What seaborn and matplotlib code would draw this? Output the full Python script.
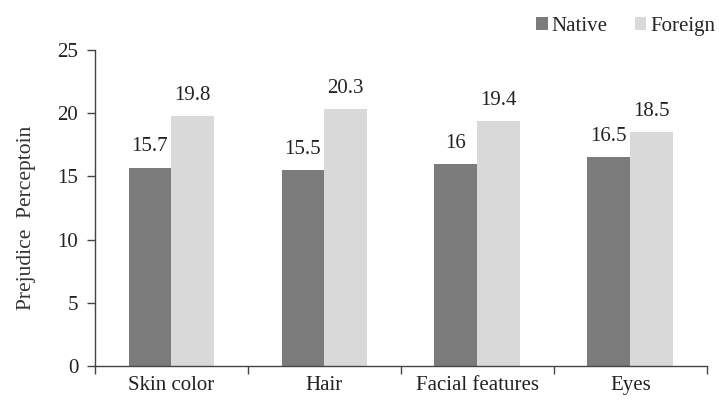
import numpy as np
import pandas as pd
import matplotlib
matplotlib.use('Agg')
import matplotlib.pyplot as plt
import seaborn as sns
from matplotlib.ticker import FixedLocator

# Data
categories = ['Skin color', 'Hair', 'Facial features', 'Eyes']
native = [15.7, 15.5, 16, 16.5]
foreign = [19.8, 20.3, 19.4, 18.5]
groups = ['Native', 'Foreign']

df = pd.DataFrame({
    'Feature': categories * 2,
    'Group': ['Native'] * len(categories) + ['Foreign'] * len(categories),
    'Value': native + foreign,
})

sns.set_style('white')
plt.rcParams['font.family'] = ['Liberation Serif', 'DejaVu Serif']

fig = plt.figure(figsize=(7.19, 4.0), dpi=100)
ax = fig.add_axes([0.132, 0.085, 0.851, 0.79])

palette = {'Native': '#7b7b7b', 'Foreign': '#d9d9d9'}
sns.barplot(data=df, x='Feature', y='Value', hue='Group', order=categories,
            hue_order=groups, palette=palette, width=0.56, saturation=1,
            ax=ax, linewidth=0)

for cont in ax.containers:
    labels = [f'{v:g}' for v in cont.datavalues]
    ax.bar_label(cont, labels=labels, padding=8, fontsize=15, color='#222222')

ax.set_ylim(0, 25)
ax.set_xlim(-0.5, len(categories) - 0.5)
ax.set_yticks([0, 5, 10, 15, 20, 25])
ax.tick_params(axis='y', which='major', left=True, length=6, width=1,
               color='#444444', labelsize=15, pad=6, labelcolor='#222222')
ax.tick_params(axis='x', which='major', bottom=False, length=0, labelsize=15,
               pad=7, labelcolor='#222222')
ax.xaxis.set_minor_locator(FixedLocator(np.arange(-0.5, len(categories), 1.0)))
ax.tick_params(axis='x', which='minor', bottom=True, length=6, width=1,
               color='#444444')

ax.set_xlabel('')
ax.set_ylabel('Prejudice  Perceptoin', fontsize=15.5, color='#333333')
ax.yaxis.set_label_coords(-0.097, 0.47)

for side in ['top', 'right']:
    ax.spines[side].set_visible(False)
for side in ['left', 'bottom']:
    ax.spines[side].set_color('#444444')
    ax.spines[side].set_linewidth(1)

ax.legend(title=None, frameon=False, ncol=2, loc='center right',
          bbox_to_anchor=(1.045, 1.075), handlelength=0.55, handleheight=0.55,
          handletextpad=0.2, columnspacing=1.3,
          prop={'family': 'Liberation Serif', 'size': 15})

fig.savefig('out.png', dpi=100)
